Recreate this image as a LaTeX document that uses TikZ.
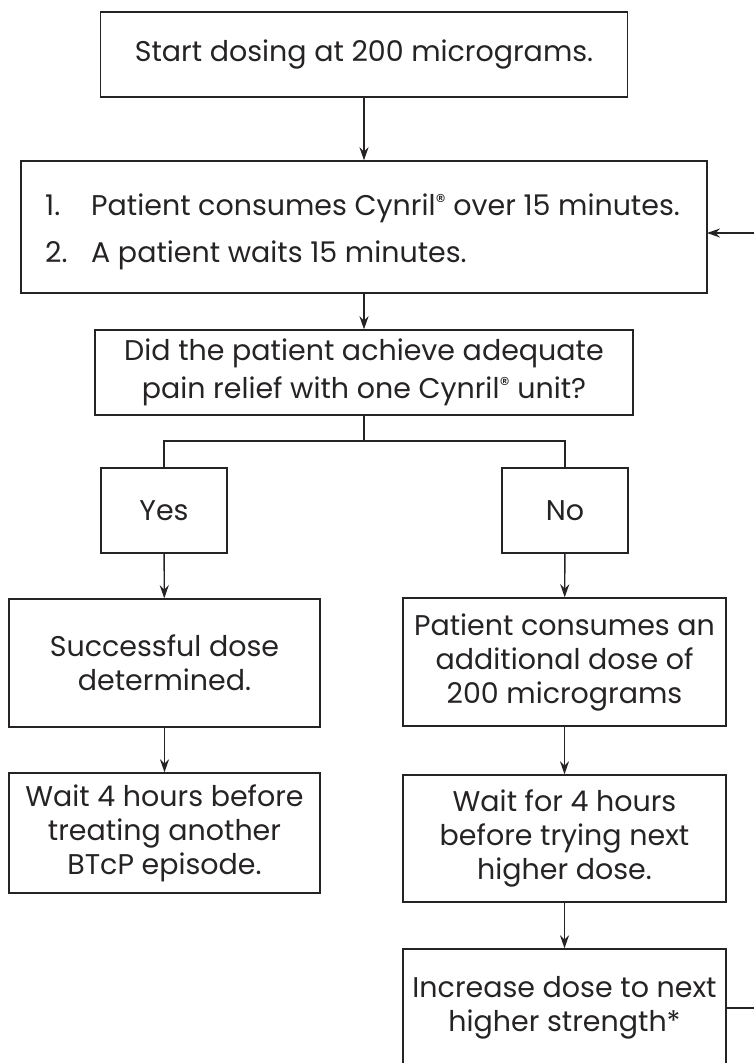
\documentclass[tikz,border=0pt]{standalone}
\usepackage{fontspec}
\setmainfont{Poppins}
\usetikzlibrary{arrows.meta}
\definecolor{ink}{HTML}{262324}
\tikzset{
  box/.style={draw=ink, line width=1.4pt, rectangle, inner sep=0pt, align=center, text=ink,
    font=\fontsize{28.5}{34}\selectfont},
  arr/.style={draw=ink, line width=1.4pt, -{Stealth[length=13pt,width=9pt]}},
  ln/.style={draw=ink, line width=1.4pt},
  txt/.style={text=ink, inner sep=0pt, font=\fontsize{28.5}{34}\selectfont}
}
\newcommand{\reg}{\raisebox{7pt}{\fontsize{20}{20}\selectfont ®}}
\begin{document}
\begin{tikzpicture}[x=1pt,y=-1pt]
\useasboundingbox (0,0) rectangle (754,1063);
\node[box, minimum width=527pt, minimum height=85pt] (b1) at (364,54.5) {\raisebox{-3pt}{Start dosing at 200 micrograms.}};
\node[box, minimum width=686pt, minimum height=132pt] (b2) at (364,227) {};
\node[txt, anchor=base west] (n1) at (45,215) {1.};
\node[txt, anchor=base west] (t1) at (91,215) {Patient consumes Cynril\reg{} over 15 minutes.};
\node[txt, anchor=base west] (n2) at (45,262) {2.};
\node[txt, anchor=base west] (t2) at (91,262) {A patient waits 15 minutes.};
\node[box, minimum width=538pt, minimum height=85pt, font=\fontsize{28.5}{37.5}\selectfont] (b3) at (364,372.5) {Did the patient achieve adequate\\pain relief with one Cynril\reg{} unit?};
\node[box, minimum width=126pt, minimum height=85pt] (yes) at (164,510.5) {Yes};
\node[box, minimum width=126pt, minimum height=85pt] (no) at (565,510.5) {No};
\node[box, minimum width=311pt, minimum height=128pt] (succ) at (164.5,663) {Successful dose\\determined.};
\node[box, minimum width=311pt, minimum height=120pt] (wait4) at (164.5,833) {Wait 4 hours before\\treating another\\BTcP episode.};
\node[box, minimum width=323pt, minimum height=128pt] (add) at (564.5,662) {Patient consumes an\\additional dose of\\200 micrograms};
\node[box, minimum width=323pt, minimum height=127pt] (waitf) at (564.5,838.5) {Wait for 4 hours\\before trying next\\higher dose.};
\node[box, minimum width=323pt, minimum height=118pt] (inc) at (564.5,1008) {Increase dose to next\\higher strength*};
\coordinate (j) at (364,441);
\coordinate (loopc) at (762,1008);
\coordinate (loopin) at (707,233);
\draw[arr] (b1) -- (b2);
\draw[arr] (b2) -- (b3);
\draw[ln] (b3.south) -- (j);
\draw[ln] (yes.north) |- (j) -| (no.north);
\draw[arr] (yes) -- (succ);
\draw[arr] (succ) -- (wait4);
\draw[arr] (no) -- (add);
\draw[arr] (add) -- (waitf);
\draw[arr] (waitf) -- (inc);
\draw[arr] (inc.east) -- (loopc) |- (loopin);
\end{tikzpicture}
\end{document}
